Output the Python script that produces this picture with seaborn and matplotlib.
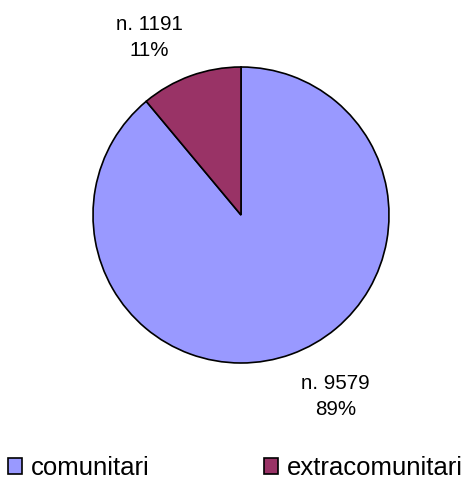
import matplotlib
matplotlib.use("Agg")
import matplotlib.pyplot as plt
from matplotlib.patches import Patch
import seaborn as sns

# data
categories = ["comunitari", "extracomunitari"]
counts = [9579, 1191]
percents = [89, 11]
colors = ["#9999FF", "#993366"]

sns.set_theme(style="white")
plt.rcParams['font.family'] = ['Liberation Sans', 'DejaVu Sans']
plt.rcParams['text.color'] = 'black'

W, H = 471, 483
fig = plt.figure(figsize=(W / 100, H / 100), dpi=100)
fig.patch.set_facecolor("white")

# pie centred at (241, 215) px with radius 148 px
cx, cy, r = 241, 215, 148
ax = fig.add_axes([(cx - r) / W, (H - cy - r) / H, 2 * r / W, 2 * r / H])
ax.pie(counts, colors=colors, startangle=90, counterclock=False,
       wedgeprops=dict(edgecolor="black", linewidth=1.2))
ax.set_xlim(-1, 1)
ax.set_ylim(-1, 1)
ax.set_aspect("equal")
ax.axis("off")

# data labels (Excel-style placement)
label_pos = [(0.64, -1.225), (-0.62, 1.2)]
for (x, y), n, p in zip(label_pos, counts, percents):
    ax.text(x, y, f"n. {n}\n{p}%", ha="center", va="center",
            fontsize=14.8, linespacing=1.5, color="black")

handles = [Patch(facecolor=c, edgecolor="black", linewidth=1.2) for c in colors]
fig.legend(handles, categories, loc="center left",
           bbox_to_anchor=(8 / W, 1 - 468 / H), ncol=2, frameon=False,
           fontsize=18.5, handlelength=0.55, handleheight=0.55,
           handletextpad=0.35, columnspacing=4.45, labelcolor="black",
           borderpad=0, borderaxespad=0)

fig.savefig("out.png", dpi=100)
